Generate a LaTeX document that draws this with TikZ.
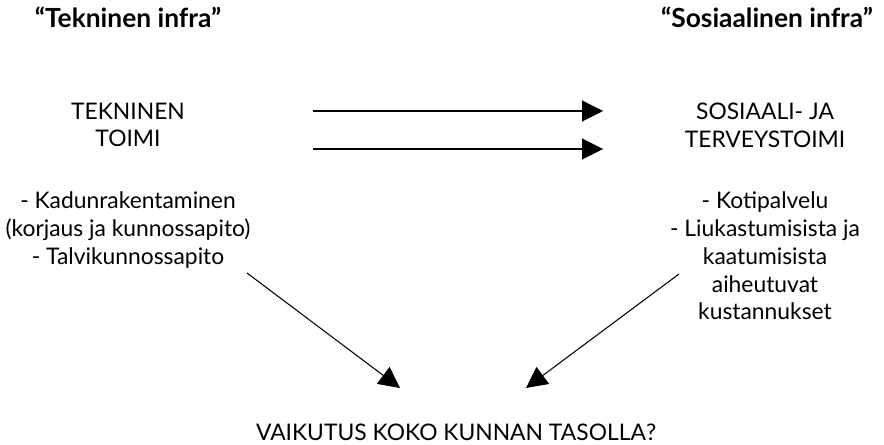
\documentclass[tikz,border=0pt]{standalone}
\usepackage{fontspec}
\setmainfont{Lato}
\usetikzlibrary{arrows.meta}

\tikzset{
  txt/.style={align=center, inner sep=0pt, font=\fontsize{13}{15.8}\selectfont},
  head/.style={txt, font=\fontsize{15}{17}\selectfont\bfseries},
  arr/.style={line width=0.6pt, -{Triangle[length=0.42cm,width=0.42cm]}}
}

\begin{document}
\begin{tikzpicture}[x=0.02cm, y=-0.02cm]
  \useasboundingbox (0,0) rectangle (884,445);

  % Headings
  \node[head] (tekinfra) at (128,17) {``Tekninen infra''};
  \node[head] (sosinfra) at (767,17) {``Sosiaalinen infra''};

  % Left side
  \node[txt] (tektoimi) at (128,125) {TEKNINEN\\TOIMI};
  \node[txt] (teklist) at (128,230) {- Kadunrakentaminen\\(korjaus ja kunnossapito)\\- Talvikunnossapito};

  % Right side
  \node[txt] (sostoimi) at (765,125) {SOSIAALI- JA\\TERVEYSTOIMI};
  \node[txt] (soslist) at (765,256) {- Kotipalvelu\\- Liukastumisista ja\\kaatumisista\\aiheutuvat\\kustannukset};

  % Bottom
  \node[txt] (vaikutus) at (456,432) {VAIKUTUS KOKO KUNNAN TASOLLA?};

  % Define points
  \coordinate (A1) at (313,111);
  \coordinate (B1) at (603,111);
  \coordinate (A2) at (313,149);
  \coordinate (B2) at (603,149);
  \coordinate (C) at (247,273);
  \coordinate (D) at (400,388);
  \coordinate (E) at (679,274);
  \coordinate (F) at (526,388);

  % Draw arrows
  \draw[arr] (A1) -- (B1);
  \draw[arr] (A2) -- (B2);
  \draw[arr] (C) -- (D);
  \draw[arr] (E) -- (F);
\end{tikzpicture}
\end{document}
